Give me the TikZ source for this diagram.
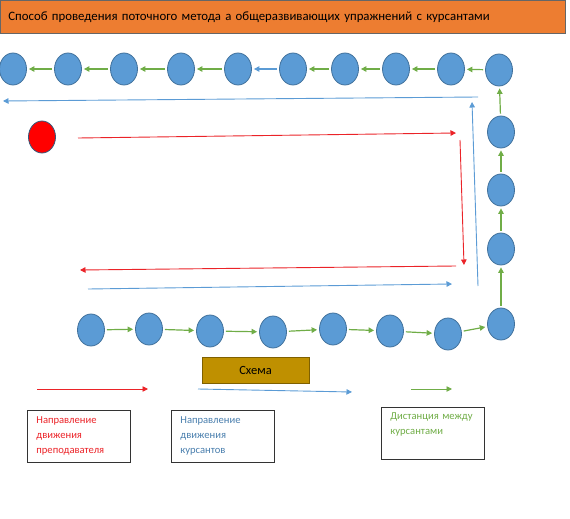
\documentclass[tikz,border=0pt]{standalone}
\usepackage{fontspec}
\setmainfont{Carlito}
\usepackage{xcolor}
\usepackage{tikz}
\usetikzlibrary{shapes.geometric, arrows.meta}
\usetikzlibrary{calc,positioning}

\definecolor{kursblue}{RGB}{91,155,213}
\definecolor{kursedge}{RGB}{65,113,156}
\definecolor{stepgreen}{RGB}{112,173,71}
\definecolor{teachred}{RGB}{235,35,40}
\definecolor{titleorange}{RGB}{237,125,49}
\definecolor{schemegold}{RGB}{191,144,0}
\definecolor{schemeedge}{RGB}{127,96,0}

\begin{document}
\begin{tikzpicture}[x=1pt, y=-1pt, >={Triangle[length=5.5pt,width=5.5pt]},
    cadet/.style={ellipse, draw=kursedge, fill=kursblue, line width=0.8pt,
        minimum width=27pt, minimum height=32pt, inner sep=0pt},
    gap/.style={->, stepgreen, line width=1.2pt, shorten <=2pt, shorten >=2pt},
    route/.style={->, line width=0.9pt},
    legendbox/.style={draw=black!80, line width=0.8pt, anchor=north west,
        minimum height=52pt, text width=85pt, align=left, inner xsep=9pt,
        font=\fontsize{10.6}{15}\selectfont}]

    \useasboundingbox (0,0) rectangle (570,519);

    % Titel
    \node[draw=black!60, fill=titleorange, line width=0.8pt, anchor=north west,
        minimum height=33pt, text width=549pt, inner xsep=8pt, align=left,
        font=\fontsize{12.8}{15}\selectfont] (title) at (0,0)
        {Способ проведения поточного метода а общеразвивающих упражнений с курсантами};

    % Kursanten
    \foreach \x/\y [count=\i] in {91/330, 149/329, 210/331, 273/332, 333/329,
        390/331, 448/334, 501/324, 501/249, 501/190, 501/132, 499/70,
        451/69, 396/69, 345/69, 293/69, 238/69, 181/69, 124/69, 68/69, 13/69} {
        \node[cadet] (k\i) at (\x,\y) {};
    }

    % Distanz
    \foreach \i [evaluate=\i as \j using int(\i+1)] in {1,...,15,17,18,19,20} {
        \draw[gap] (k\i) -- (k\j);
    }
    \draw[gap, kursblue] (k16) -- (k17);

    % Lehrer
    \node[cadet, fill=red, draw=kursedge!80!black] (teacher) at (42,137) {};

    % Weg Lehrer
    \coordinate (r1) at (78,138);
    \coordinate (r2) at (456,133);
    \coordinate (r3) at (460,140);
    \coordinate (r4) at (464,265);
    \coordinate (r5) at (456,266);
    \coordinate (r6) at (80,270);
    \draw[route, teachred] (r1) -- (r2);
    \draw[route, teachred] (r3) -- (r4);
    \draw[route, teachred] (r5) -- (r6);

    % Weg Kursanten
    \coordinate (b1) at (88,289);
    \coordinate (b2) at (452,284);
    \coordinate (b3) at (478,286);
    \coordinate (b4) at (472,102);
    \coordinate (b5) at (478,97);
    \coordinate (b6) at (3,101);
    \draw[route, kursblue] (b1) -- (b2);
    \draw[route, kursblue] (b3) -- (b4);
    \draw[route, kursblue] (b5) -- (b6);

    % Schema
    \node[draw=schemeedge, fill=schemegold, line width=0.8pt, minimum width=107pt,
        minimum height=26pt, font=\fontsize{12.5}{14}\selectfont] (scheme) at (255.5,370) {Схема};

    % Legende
    \coordinate (l1) at (37,389);
    \coordinate (l2) at (148,389);
    \coordinate (l3) at (198,389);
    \coordinate (l4) at (352,392);
    \coordinate (l5) at (411,389);
    \coordinate (l6) at (452,389);
    \draw[route, teachred] (l1) -- (l2);
    \draw[route, kursblue] (l3) -- (l4);
    \draw[route, stepgreen] (l5) -- (l6);

    \node[legendbox, text=teachred] (legteach) at (27,410)
        {Направление\\движения\\преподавателя};
    \node[legendbox, text=kursedge!70!kursblue] (legkurs) at (171,410)
        {Направление\\движения\\курсантов};
    \node[legendbox, text=stepgreen] (legstep) at (381,407)
        {Дистанция между\\курсантами\\\strut};

\end{tikzpicture}
\end{document}
